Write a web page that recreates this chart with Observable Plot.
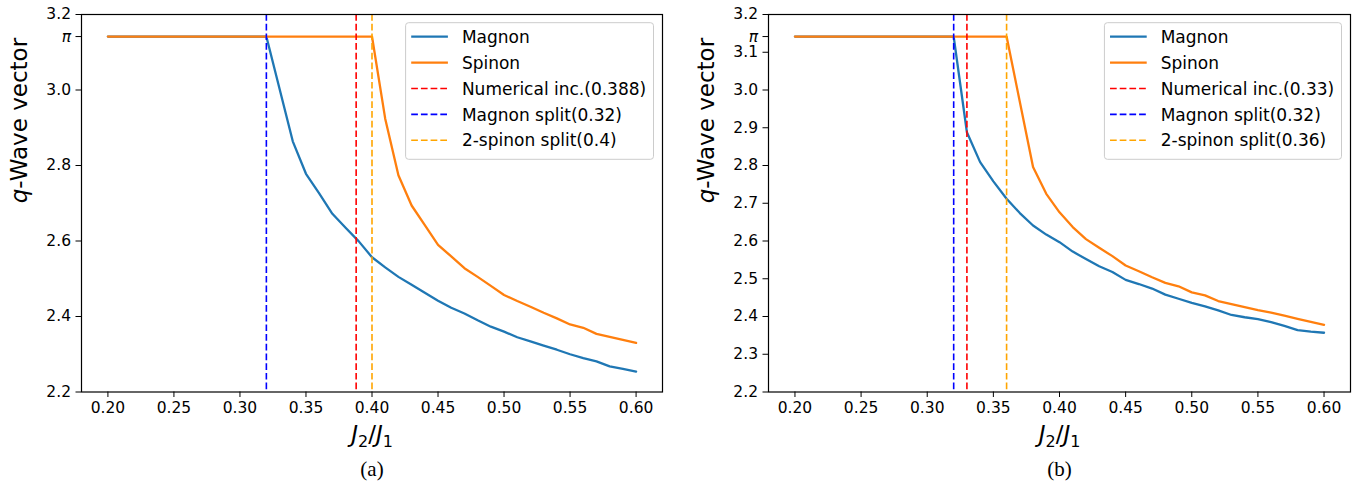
<!DOCTYPE html>
<html><head><meta charset="utf-8">
<script src="https://cdn.jsdelivr.net/npm/d3@7"></script>
<script src="https://cdn.jsdelivr.net/npm/@observablehq/plot@0.6"></script>
<style>
body{margin:0;background:#fff;}
#wrap{position:relative;width:1365px;height:487px;overflow:hidden;}
#wrap svg{position:absolute;top:0;}
</style></head><body><div id="wrap"></div>
<script>
const PI = Math.PI;

// Shared ticks
const xTicks = [0.20, 0.25, 0.30, 0.35, 0.40, 0.45, 0.50, 0.55, 0.60];
const yTicksA = [2.2, 2.4, 2.6, 2.8, 3.0, PI, 3.2];
const yTicksB = [2.2, 2.3, 2.4, 2.5, 2.6, 2.7, 2.8, 2.9, 3.0, 3.1, PI, 3.2];

// Panel (a)
const magnonAX = [0.20, 0.32, 0.34, 0.35, 0.36, 0.37, 0.38, 0.39, 0.40, 0.41, 0.42, 0.43, 0.44, 0.45, 0.46, 0.47, 0.48, 0.49, 0.50, 0.51, 0.52, 0.53, 0.54, 0.55, 0.56, 0.57, 0.58, 0.59, 0.60];
const magnonAY = [PI, PI, 2.864, 2.778, 2.726, 2.672, 2.635, 2.599, 2.557, 2.530, 2.505, 2.484, 2.463, 2.442, 2.423, 2.408, 2.390, 2.373, 2.360, 2.345, 2.334, 2.323, 2.312, 2.300, 2.290, 2.281, 2.268, 2.261, 2.254];
const spinonAX = [0.20, 0.40, 0.41, 0.42, 0.43, 0.44, 0.45, 0.46, 0.47, 0.48, 0.49, 0.50, 0.51, 0.52, 0.53, 0.54, 0.55, 0.56, 0.57, 0.58, 0.59, 0.60];
const spinonAY = [PI, PI, 2.924, 2.774, 2.694, 2.642, 2.590, 2.559, 2.528, 2.505, 2.481, 2.457, 2.441, 2.426, 2.410, 2.395, 2.379, 2.370, 2.354, 2.346, 2.338, 2.330];
const vlineAX = [0.388, 0.32, 0.4];
const legendA = ["Magnon", "Spinon", "Numerical inc.(0.388)", "Magnon split(0.32)", "2-spinon split(0.4)"];

// Panel (b)
const magnonBX = [0.20, 0.32, 0.33, 0.34, 0.35, 0.36, 0.37, 0.38, 0.39, 0.40, 0.41, 0.42, 0.43, 0.44, 0.45, 0.46, 0.47, 0.48, 0.49, 0.50, 0.51, 0.52, 0.53, 0.54, 0.55, 0.56, 0.57, 0.58, 0.59, 0.60];
const magnonBY = [PI, PI, 2.888, 2.809, 2.758, 2.712, 2.674, 2.641, 2.617, 2.597, 2.572, 2.552, 2.533, 2.518, 2.497, 2.486, 2.474, 2.458, 2.447, 2.436, 2.427, 2.416, 2.404, 2.398, 2.393, 2.385, 2.375, 2.364, 2.360, 2.357];
const spinonBX = [0.20, 0.36, 0.38, 0.39, 0.40, 0.41, 0.42, 0.43, 0.44, 0.45, 0.46, 0.47, 0.48, 0.49, 0.50, 0.51, 0.52, 0.53, 0.54, 0.55, 0.56, 0.57, 0.58, 0.59, 0.60];
const spinonBY = [PI, PI, 2.796, 2.725, 2.676, 2.637, 2.605, 2.582, 2.560, 2.535, 2.520, 2.504, 2.489, 2.480, 2.464, 2.456, 2.441, 2.433, 2.425, 2.417, 2.410, 2.402, 2.394, 2.386, 2.378];
const vlineBX = [0.33, 0.32, 0.36];
const legendB = ["Magnon", "Spinon", "Numerical inc.(0.33)", "Magnon split(0.32)", "2-spinon split(0.36)"];

const vlineColors = ["red", "blue", "orange"];
const seriesColors = ["#1f77b4", "#ff7f0e"];

const zip = (xs, ys) => xs.map((x, i) => ({x, y: ys[i]}));

function panel(opts) {
  const {mx, my, sx, sy, vx, yTicks, legend, width, marginLeft, marginRight, caption, left} = opts;
  const vlines = vx.map((x, i) => ({x, color: vlineColors[i]}));
  const svg = Plot.plot({
    width, height: 487, marginLeft, marginRight, marginTop: 14, marginBottom: 95.5,
    style: {fontFamily: "DejaVu Sans", fontSize: "15.5px", color: "black", background: "transparent"},
    x: {domain: [0.18, 0.62]},
    y: {domain: [2.2, 3.2]},
    color: {type: "identity"},
    marks: [
      Plot.line(zip(mx, my), {x: "x", y: "y", stroke: seriesColors[0], strokeWidth: 2.3}),
      Plot.line(zip(sx, sy), {x: "x", y: "y", stroke: seriesColors[1], strokeWidth: 2.3}),
      Plot.ruleX(vlines, {x: "x", stroke: "color", strokeWidth: 1.6, strokeDasharray: "6.7,3"}),
      Plot.frame({stroke: "black", strokeWidth: 1.2}),
      Plot.axisX({ticks: xTicks, tickFormat: d3.format(".2f"), tickSize: 5.5, tickPadding: 4, label: null}),
      Plot.axisY({ticks: yTicks, tickFormat: d => d === PI ? "π" : d.toFixed(1), tickSize: 5.5, tickPadding: 5, label: null}),
      Plot.text(["q-Wave vector"], {frameAnchor: "left", rotate: -90, dx: -62, fontSize: 23}),
      Plot.text(["J₂/J₁"], {frameAnchor: "bottom", dy: 50, fontSize: 23}),
      Plot.text([caption], {frameAnchor: "bottom", dy: 84, fontSize: 21, fontFamily: "Liberation Serif"})
    ]
  });
  svg.style.left = left + "px";
  document.getElementById("wrap").appendChild(svg);
  const s = d3.select(svg);
  // styling of math parts
  s.selectAll("text").each(function () {
    const t = d3.select(this);
    if (this.textContent === "π" && this.children.length === 0) t.style("font-style", "italic");
  });
  s.selectAll("text").filter(function () { return this.textContent === "q-Wave vector" && this.childElementCount === 0; })
    .each(function () {
      const t = d3.select(this); t.text(null);
      t.append("tspan").attr("font-style", "italic").text("q");
      t.append("tspan").text("-Wave vector");
    });
  s.selectAll("text").filter(function () { return this.textContent === "J₂/J₁" && this.childElementCount === 0; })
    .each(function () {
      const t = d3.select(this); t.text(null);
      t.append("tspan").attr("font-style", "italic").text("J");
      t.append("tspan").attr("font-size", 16).attr("dy", 5).text("2");
      t.append("tspan").attr("dy", -5).text("/");
      t.append("tspan").attr("font-style", "italic").text("J");
      t.append("tspan").attr("font-size", 16).attr("dy", 5).text("1");
    });

  // legend (upper right inside the frame)
  const frameRight = width - marginRight;
  const g = s.append("g").attr("font-family", "DejaVu Sans").attr("font-size", 17).attr("text-anchor", "start");
  const box = g.append("rect");
  const items = legend.map((label, i) => ({label, color: i === 0 ? seriesColors[0] : i === 1 ? seriesColors[1] : vlineColors[i - 2], dashed: i >= 2}));
  const texts = g.selectAll("text.leg").data(items).join("text").attr("class", "leg")
    .attr("text-anchor", "start").attr("dy", "0.36em").text(d => d.label).attr("fill", "black");
  let maxW = 0;
  texts.each(function () { maxW = Math.max(maxW, this.getComputedTextLength()); });
  const bw = 63.6 + maxW, bh = 136.6;
  const bx = frameRight - 8.5 - bw, by = 14 + 8.7;
  box.attr("x", bx).attr("y", by).attr("width", bw).attr("height", bh).attr("rx", 3)
    .attr("fill", "white").attr("fill-opacity", 0.8).attr("stroke", "#cccccc").attr("stroke-width", 1);
  texts.attr("x", bx + 56.3).attr("y", (d, i) => by + 14 + i * 25.9);
  g.selectAll("line.leg").data(items).join("line").attr("class", "leg")
    .attr("x1", bx + 5.6).attr("x2", bx + 42.3)
    .attr("y1", (d, i) => by + 14 + i * 25.9).attr("y2", (d, i) => by + 14 + i * 25.9)
    .attr("stroke", d => d.color).attr("stroke-width", d => d.dashed ? 1.6 : 2.3)
    .attr("stroke-dasharray", d => d.dashed ? "6.7,3" : null);
}

panel({mx: magnonAX, my: magnonAY, sx: spinonAX, sy: spinonAY, vx: vlineAX, yTicks: yTicksA, legend: legendA,
  width: 683, marginLeft: 81, marginRight: 21, caption: "(a)", left: 0});
panel({mx: magnonBX, my: magnonBY, sx: spinonBX, sy: spinonBY, vx: vlineBX, yTicks: yTicksB, legend: legendB,
  width: 682, marginLeft: 85, marginRight: 15, caption: "(b)", left: 683});
</script></body></html>
